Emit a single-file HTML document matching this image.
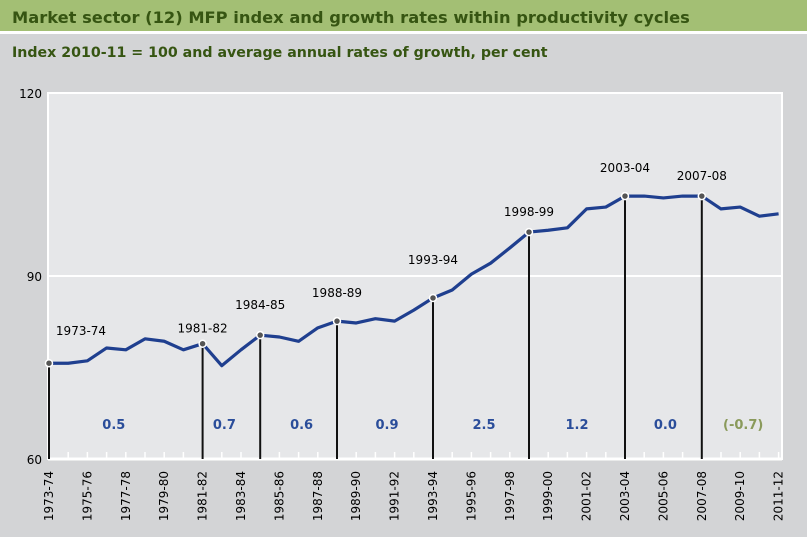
<!DOCTYPE html>
<html><head><meta charset="utf-8"><style>
body{margin:0;width:807px;height:537px;background:#d3d4d6;font-family:"DejaVu Sans","Liberation Sans",sans-serif;overflow:hidden}
#title{position:absolute;left:0;top:0;width:807px;height:34px;background:#a3bf74;border-bottom:3px solid #fff;color:#365512;font-weight:bold;font-size:16.3px;line-height:36px;padding-left:12px;box-sizing:border-box}
#sub{position:absolute;left:12px;top:45px;color:#365512;font-weight:bold;font-size:14.2px}
</style></head><body>
<div id="title">Market sector (12) MFP index and growth rates within productivity cycles</div>
<div id="sub">Index 2010-11 = 100 and average annual rates of growth, per cent</div>
<svg id="chart" width="807" height="537" style="position:absolute;left:0;top:0"></svg>
<script>
const years=["1973-74","1974-75","1975-76","1976-77","1977-78","1978-79","1979-80","1980-81","1981-82","1982-83","1983-84","1984-85","1985-86","1986-87","1987-88","1988-89","1989-90","1990-91","1991-92","1992-93","1993-94","1994-95","1995-96","1996-97","1997-98","1998-99","1999-00","2000-01","2001-02","2002-03","2003-04","2004-05","2005-06","2006-07","2007-08","2008-09","2009-10","2010-11","2011-12"];
const values=[75.7,75.7,76.1,78.2,77.9,79.7,79.3,77.9,78.9,75.3,77.9,80.3,80.0,79.3,81.5,82.6,82.3,83.0,82.6,84.4,86.4,87.7,90.3,92.1,94.6,97.2,97.5,97.9,101.0,101.3,103.1,103.1,102.8,103.1,103.1,101.0,101.3,99.8,100.2];
const peaks=["1973-74","1981-82","1984-85","1988-89","1993-94","1998-99","2003-04","2007-08"];
const growth=["0.5","0.7","0.6","0.9","2.5","1.2","0.0","(-0.7)"];
const yTicks=[60,90,120];
const NS="http://www.w3.org/2000/svg";
const svg=document.getElementById('chart');
const L=48,R=782,T=93,B=459,step=19.2;
const x=i=>49+i*step, y=v=>B-(v-60)/60*(B-T);
function mk(t,a,p){const e=document.createElementNS(NS,t);for(const k in a)e.setAttribute(k,a[k]);(p||svg).appendChild(e);return e;}
const bg=mk('rect',{x:L,y:T,width:R-L,height:B-T,fill:'#e6e7e9',stroke:'#fff','stroke-width':2});


yTicks.forEach(v=>{
 if(v>60&&v<120){const g=mk('line',{x1:L,x2:R,y1:y(v),y2:y(v),stroke:'#fff','stroke-width':2});
 
 }
 const t=mk('text',{x:L-6,y:y(v)+5,'text-anchor':'end','font-size':12,fill:'#000'});t.textContent=v;
 
 
});
mk('line',{x1:L,x2:R,y1:B,y2:B,stroke:'#fff','stroke-width':3});
years.forEach((yr,i)=>{
 const tk=mk('line',{x1:x(i),x2:x(i),y1:B-7,y2:B,stroke:'#fff','stroke-width':1.5});
 
 
 if(i%2==0){const t=mk('text',{x:0,y:0,transform:`translate(${x(i)+4},${B+12}) rotate(-90)`,'text-anchor':'end','font-size':12,fill:'#000'});t.textContent=yr;
 
 }
});
const labelOff=[28,11,26,24,34,16,24,16];
const growthNudge=[-12,-7,3,2,3,0,2,-5];
const pidx=peaks.map(p=>years.indexOf(p));
pidx.forEach((i,k)=>{
 const d=mk('line',{x1:x(i),x2:x(i),y1:y(values[i]),y2:B,stroke:'#111','stroke-width':2});
 
 
 const t=mk('text',{x:x(i)+(k==0?32:0),y:y(values[i])-labelOff[k],'text-anchor':'middle','font-size':12,fill:'#000'});t.textContent=peaks[k];
 
 
 const nx=(k<pidx.length-1?(x(i)+x(pidx[k+1]))/2:(x(i)+x(years.length-1))/2+8)+growthNudge[k];
 const g=mk('text',{x:nx,y:429,'text-anchor':'middle','font-size':13,'font-weight':'bold',fill:k==growth.length-1?'#8a9a5b':'#2a4d9a'});g.textContent=growth[k];
 
 
});
const line=mk('polyline',{points:values.map((v,i)=>x(i)+','+y(v)).join(' '),fill:'none',stroke:'#1f3f8f','stroke-width':3.2,'stroke-linejoin':'round'});


pidx.forEach(i=>{const c=mk('circle',{cx:x(i),cy:y(values[i]),r:3.5,fill:'#555',stroke:'#fff','stroke-width':1.5});
 
 });
</script>
</body></html>
